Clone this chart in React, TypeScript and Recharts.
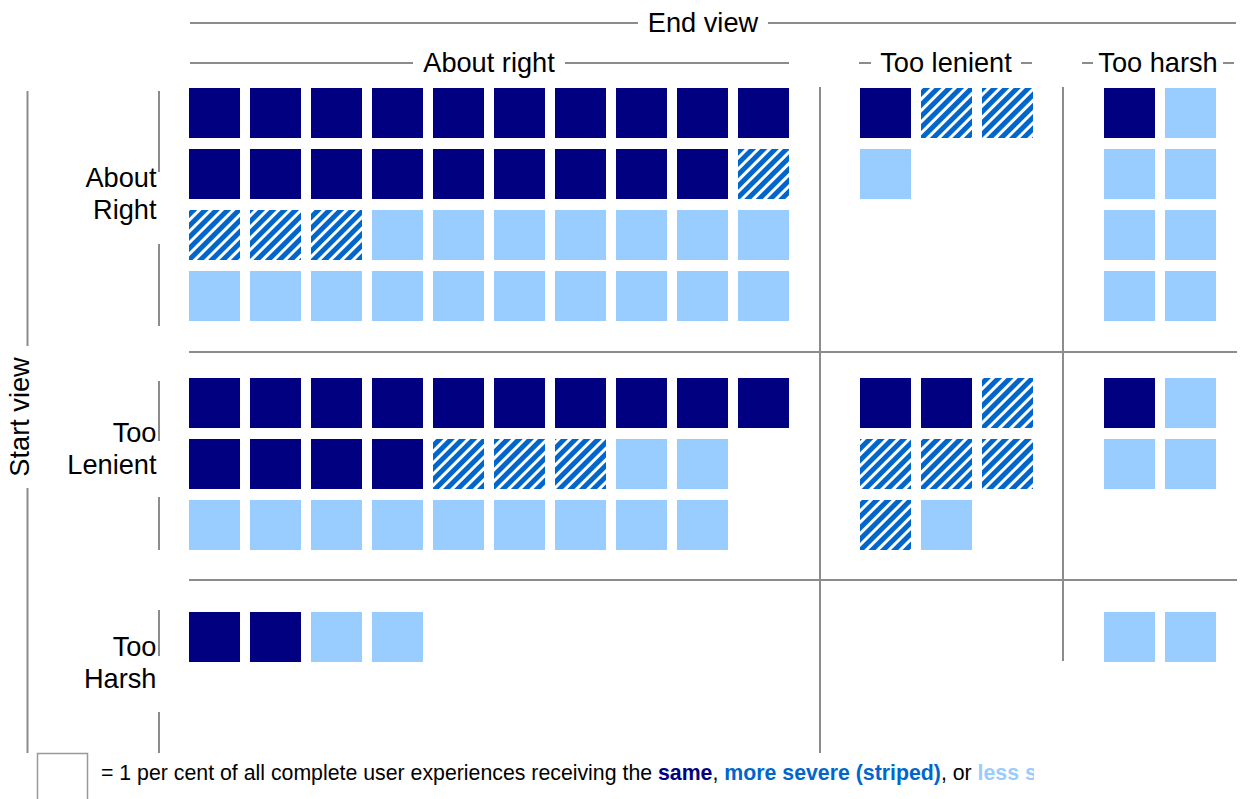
import React from 'react';
import { ScatterChart, Scatter, XAxis, YAxis } from 'recharts';

// Facet labels
const START_VIEWS = ['About\nRight', 'Too\nLenient', 'Too\nHarsh'];
const END_VIEWS = ['About right', 'Too lenient', 'Too harsh'];
const OUTCOMES = ['S', 'M', 'L']; // same, more severe (striped), less severe

// Each string is one row of the waffle; one square = 1 per cent
const aboutRightToAboutRight = ['SSSSSSSSSS', 'SSSSSSSSSM', 'MMMLLLLLLL', 'LLLLLLLLLL'];
const aboutRightToTooLenient = ['SMM', 'L'];
const aboutRightToTooHarsh = ['SL', 'LL', 'LL', 'LL'];
const tooLenientToAboutRight = ['SSSSSSSSSS', 'SSSSMMMLL', 'LLLLLLLLL'];
const tooLenientToTooLenient = ['SSM', 'MMM', 'ML'];
const tooLenientToTooHarsh = ['SL', 'LL'];
const tooHarshToAboutRight = ['SSLL'];
const tooHarshToTooLenient: string[] = [];
const tooHarshToTooHarsh = ['LL'];

const PANELS: string[][][] = [
  [aboutRightToAboutRight, aboutRightToTooLenient, aboutRightToTooHarsh],
  [tooLenientToAboutRight, tooLenientToTooLenient, tooLenientToTooHarsh],
  [tooHarshToAboutRight, tooHarshToTooLenient, tooHarshToTooHarsh],
];

// layout (grid units)
const COL_START = [0, 11, 15];
const ROW_START = [0, 4.754, 8.59];

const COLORS: Record<string, string> = { S: '#000080', M: 'url(#stripes)', L: '#99CCFF' };

type Pt = { x: number; y: number; k: string };
const points: Pt[] = [];
PANELS.forEach((row, s) =>
  row.forEach((panel, e) =>
    panel.forEach((line, r) =>
      line.split('').forEach((k, c) => {
        points.push({ x: COL_START[e] + c, y: ROW_START[s] + r, k });
      })
    )
  )
);
const seriesData = OUTCOMES.map((k) => points.filter((p) => p.k === k));

const FONT = "'Liberation Sans', Arial, Helvetica, sans-serif";
const GRAY = '#8c8c8c';
const FS = 27.2;

const makeShape = (fill: string) => (props: any) => (
  <rect x={props.cx - 25.5} y={props.cy - 25} width={51} height={50} fill={fill} />
);

export default function App() {
  const lines: [number, number, number, number][] = [
    // header lines
    [190, 23, 638, 23], [768, 23, 1236, 23],
    [190, 63, 413, 63], [565, 63, 789, 63],
    [859, 63, 871, 63], [1021, 63, 1032, 63],
    [1082, 63, 1093, 63], [1223, 63, 1234, 63],
    // panel separators
    [820, 87, 820, 753], [1063, 87, 1063, 661],
    [189, 352, 1237, 352], [189, 580, 1237, 580],
    // start view axis
    [27.5, 91, 27.5, 346], [27.5, 488, 27.5, 753],
    // row label ticks
    [159, 91, 159, 172], [159, 244, 159, 326],
    [159, 381, 159, 441], [159, 497, 159, 550],
    [159, 610, 159, 656], [159, 712, 159, 753],
  ];
  const rowLabelBase = [186.5, 441.5, 655.5];
  return (
    <div style={{ position: 'absolute', left: 0, top: 0, width: 1242, height: 799, background: '#fff', overflow: 'hidden' }}>
      <svg width={0} height={0} style={{ position: 'absolute' }}>
        <defs>
          <pattern id="stripes" patternUnits="userSpaceOnUse" width={8} height={8} patternTransform="rotate(45)">
            <rect x={0} y={0} width={8} height={8} fill="#0066CC" />
            <rect x={0} y={0} width={3} height={8} fill="#ffffff" />
          </pattern>
        </defs>
      </svg>
      <div style={{ position: 'absolute', left: 0, top: 0 }}>
        <ScatterChart width={1242} height={799} margin={{ top: 0, right: 0, bottom: 0, left: 0 }}>
          <XAxis type="number" dataKey="x" domain={[-3.5164, 16.8443]} hide allowDataOverflow />
          <YAxis type="number" dataKey="y" domain={[-1.8525, 11.2459]} reversed hide allowDataOverflow />
          {OUTCOMES.map((k, i) => (
            <Scatter key={k} data={seriesData[i]} isAnimationActive={false} shape={makeShape(COLORS[k])} />
          ))}
        </ScatterChart>
      </div>
      <svg width={1242} height={799} style={{ position: 'absolute', left: 0, top: 0, pointerEvents: 'none' }} fontFamily={FONT}>
        <defs>
          <clipPath id="legclip">
            <rect x={0} y={740} width={1034} height={60} />
          </clipPath>
        </defs>
        {lines.map((l, i) => (
          <line key={i} x1={l[0]} y1={l[1]} x2={l[2]} y2={l[3]} stroke={GRAY} strokeWidth={2} />
        ))}
        <text x={703} y={32} fontSize={FS} textAnchor="middle" fill="#000">End view</text>
        <text x={489} y={72} fontSize={FS} textAnchor="middle" fill="#000">{END_VIEWS[0]}</text>
        <text x={946} y={72} fontSize={FS} textAnchor="middle" fill="#000">{END_VIEWS[1]}</text>
        <text x={1158} y={72} fontSize={FS} textAnchor="middle" fill="#000">{END_VIEWS[2]}</text>
        <text transform="translate(29,417) rotate(-90)" fontSize={FS} textAnchor="middle" fill="#000">Start view</text>
        {START_VIEWS.map((lab, i) =>
          lab.split('\n').map((part, j) => (
            <text key={i + '-' + j} x={156.5} y={rowLabelBase[i] + j * 32} fontSize={FS} textAnchor="end" fill="#000">{part}</text>
          ))
        )}
        <rect x={37.5} y={753.5} width={50} height={60} fill="none" stroke="#999" strokeWidth={1.5} />
        <g clipPath="url(#legclip)">
          <text x={101} y={780} fontSize={21.3} fill="#000">
            <tspan>= 1 per cent of all complete user experiences receiving the </tspan>
            <tspan fontWeight="bold" fill="#000080">same</tspan>
            <tspan>, </tspan>
            <tspan fontWeight="bold" fill="#0066CC">more severe (striped)</tspan>
            <tspan>, or </tspan>
            <tspan fontWeight="bold" fill="#99CCFF">less severe</tspan>
          </text>
        </g>
      </svg>
    </div>
  );
}
